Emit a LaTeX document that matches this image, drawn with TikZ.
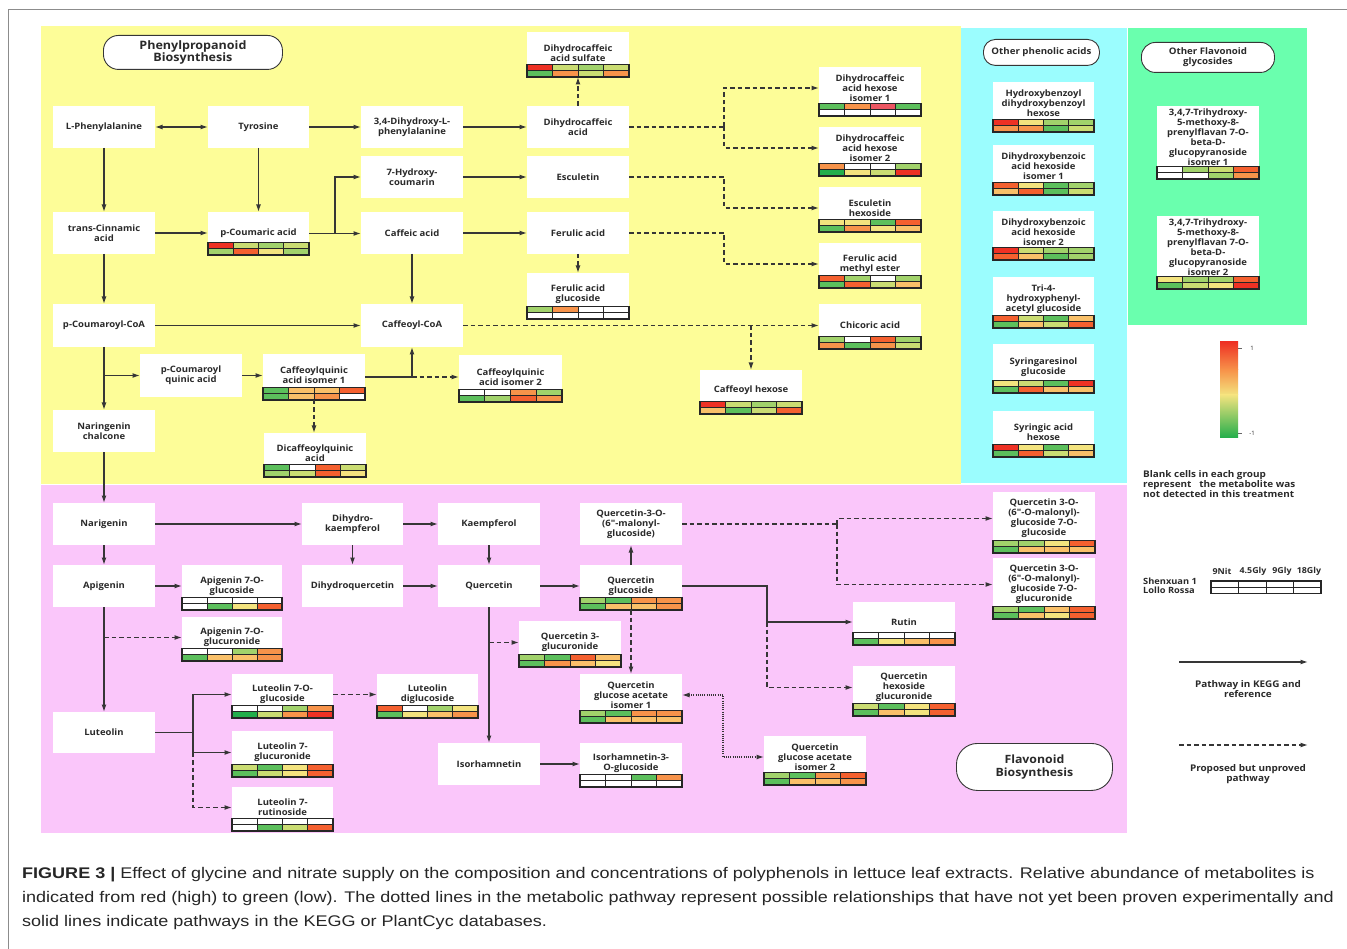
\documentclass[tikz,border=0pt]{standalone}
\usepackage{fontspec}
\setmainfont{Open Sans}
\newfontfamily\nodefont[FakeStretch=1.08]{Open Sans}
\newfontfamily\capfont[FakeStretch=1.17]{Liberation Sans}
\usetikzlibrary{arrows.meta,calc}

\definecolor{bgY}{HTML}{FDFD98}
\definecolor{bgP}{HTML}{FAC6FA}
\definecolor{bgC}{HTML}{9BFDFE}
\definecolor{bgG}{HTML}{6AFFAE}
\definecolor{lnc}{HTML}{363636}
\definecolor{txc}{HTML}{2A2A2A}
\definecolor{cR}{HTML}{EE3124}
\definecolor{cRo}{HTML}{F4602F}
\definecolor{cO}{HTML}{F7934A}
\definecolor{cLo}{HTML}{F9C069}
\definecolor{cY}{HTML}{F3E37E}
\definecolor{cYg}{HTML}{CADC72}
\definecolor{cLg}{HTML}{A1D26B}
\definecolor{cG}{HTML}{5CBF5C}
\definecolor{cDg}{HTML}{22AE4B}
\definecolor{cW}{HTML}{FFFFFF}
\definecolor{cPk}{HTML}{EC5662}

\tikzset{
  mbox/.style={rectangle, fill=white, draw=none, inner sep=0pt, outer sep=0pt},
  lbl/.style={align=center, inner sep=0pt, text=txc, font=\nodefont\bfseries\fontsize{8.8}{10}\selectfont},
  ttl/.style={rectangle, draw=lnc, fill=white, line width=0.9pt, align=center, inner sep=0pt, text=txc},
  sol/.style={draw=lnc, line width=1.3pt, -{Latex[length=7.5pt,width=5pt]}},
  dsh/.style={sol, dash pattern=on 4.5pt off 3pt},
  dtt/.style={draw=lnc, line width=1.2pt, dash pattern=on 1pt off 1.2pt, {Latex[length=7.5pt,width=5pt]}-{Latex[length=7.5pt,width=5pt]}},
  hmgrid/.style={draw=black!85, line width=0.8pt},
  hmframe/.style={draw=black!85, line width=1.2pt},
  legtxt/.style={inner sep=0pt, text=txc, font=\nodefont\bfseries\fontsize{9.2}{10}\selectfont},
  captxt/.style={inner sep=0pt, anchor=base west, text=black!85, font=\capfont\fontsize{15.4}{17}\selectfont}
}

% heatmap: x0, ytop, x1, colours (8)
\newcommand{\heat}[4]{%
  \foreach \hc [count=\hi from 0] in {#4} {%
    \pgfmathtruncatemacro\hcc{mod(\hi,4)}%
    \pgfmathtruncatemacro\hrr{\hi/4}%
    \fill[\hc] ({#1+(#3-#1)*\hcc/4},{#2+6.25*\hrr}) rectangle ({#1+(#3-#1)*(\hcc+1)/4},{#2+6.25*(\hrr+1)});
  }
  \draw[hmgrid] ({#1},{#2+6.25}) -- ({#3},{#2+6.25});
  \foreach \hk in {1,2,3} {\draw[hmgrid] ({#1+(#3-#1)*\hk/4},{#2}) -- ({#1+(#3-#1)*\hk/4},{#2+12.5});}
  \draw[hmframe] ({#1},{#2}) rectangle ({#3},{#2+12.5});
}
% plain metabolite box
\newcommand{\mbx}[6]{%
  \node[mbox, minimum width={#4pt-#2pt}, minimum height={#5pt-#3pt}, anchor=north west] (#1) at (#2,#3) {};
  \node[lbl] (#1-t) at (#1.center) {#6};
}
% metabolite box with heatmap
\newcommand{\mbh}[8][1.5]{%
  \node[mbox, minimum width={#5pt-#3pt}, minimum height={#6pt-#4pt}, anchor=north west] (#2) at (#3,#4) {};
  \node[lbl] (#2-t) at ([yshift=#1pt]#2.center) {#7};
  \heat{#3}{#6-12.5}{#5}{#8}
}

\begin{document}
\begin{tikzpicture}[x=1pt,y=-1pt]
\useasboundingbox (0,0) rectangle (1347,949);
\fill[white] (0,0) rectangle (1347,949);
\draw[black!45, line width=0.8pt] (8,949) -- (8,9) -- (1347,9);

% panels
\fill[bgY] (41,26) rectangle (961,484);
\fill[bgP] (41,485) rectangle (1127,833);
\fill[bgC] (961,28) rectangle (1127,483);
\fill[bgG] (1128,28) rectangle (1307,325);

% titles
\node[ttl, rounded corners=15pt, minimum width=179pt, minimum height=34pt, anchor=north west,
  font=\nodefont\bfseries\fontsize{11.6}{12.8}\selectfont] (ppb) at (103,35) {Phenylpropanoid\\Biosynthesis};
\node[ttl, rounded corners=21pt, minimum width=156pt, minimum height=47pt, anchor=north west,
  font=\nodefont\bfseries\fontsize{11.4}{13.2}\selectfont] (flb) at (956,743) {Flavonoid\\Biosynthesis};
\node[ttl, rounded corners=12pt, minimum width=116pt, minimum height=26pt, anchor=north west,
  font=\nodefont\bfseries\fontsize{9}{10}\selectfont] (opa) at (983,39) {Other phenolic acids};
\node[ttl, rounded corners=14pt, minimum width=133pt, minimum height=30pt, anchor=north west,
  font=\nodefont\bfseries\fontsize{9}{10}\selectfont] (ofg) at (1141,42) {Other Flavonoid\\glycosides};

% ---------- phenylpropanoid nodes
\mbx{lphe}{53}{106}{155}{148}{L-Phenylalanine}
\mbx{tyr}{208}{106}{309}{148}{Tyrosine}
\mbx{dopa}{361}{106}{463}{148}{3,4-Dihydroxy-L-\\phenylalanine}
\mbx{hcou}{361}{156}{463}{198}{7-Hydroxy-\\coumarin}
\mbx{tcin}{53}{212}{155}{254}{trans-Cinnamic\\acid}
\mbh[0.5]{pcou}{208}{212}{309}{255}{p-Coumaric acid}{cR,cYg,cLg,cYg,cLg,cRo,cY,cLg}
\mbx{caf}{361}{212}{463}{254}{Caffeic acid}
\mbh{dhcs}{527}{32}{629}{77}{Dihydrocaffeic\\acid sulfate}{cR,cYg,cLg,cYg,cG,cO,cYg,cO}
\mbx{dhca}{527}{106}{629}{148}{Dihydrocaffeic\\acid}
\mbx{esc}{527}{156}{629}{198}{Esculetin}
\mbx{fer}{527}{212}{629}{254}{Ferulic acid}
\mbh[3.5]{dhh1}{819}{67}{921}{116}{Dihydrocaffeic\\acid hexose\\isomer 1}{cG,cO,cPk,cG,cW,cW,cW,cW}
\mbh[3.5]{dhh2}{819}{127}{921}{176}{Dihydrocaffeic\\acid hexose\\isomer 2}{cO,cW,cW,cLg,cDg,cY,cYg,cR}
\mbh{esch}{819}{187}{921}{232}{Esculetin\\hexoside}{cY,cY,cG,cRo,cG,cO,cY,cLo}
\mbh{ferm}{819}{243}{921}{288}{Ferulic acid\\methyl ester}{cRo,cLg,cW,cLg,cG,cRo,cYg,cLo}
\mbh{ferg}{527}{273}{629}{319}{Ferulic acid\\glucoside}{cLg,cO,cW,cW,cW,cW,cW,cW}
\mbh{chic}{819}{304}{921}{349}{Chicoric acid}{cLg,cW,cRo,cLg,cO,cG,cO,cYg}
\mbx{pcoa}{53}{304}{155}{347}{p-Coumaroyl-CoA}
\mbx{cafcoa}{361}{304}{463}{347}{Caffeoyl-CoA}
\mbx{pcq}{140}{354}{242}{397}{p-Coumaroyl\\quinic acid}
\mbh{cq1}{263}{354}{365}{400}{Caffeoylquinic\\acid isomer 1}{cG,cLo,cLo,cRo,cG,cLo,cO,cW}
\mbx{nch}{53}{410}{155}{452}{Naringenin\\chalcone}
\mbh{dcq}{264}{433}{366}{477}{Dicaffeoylquinic\\acid}{cG,cW,cRo,cYg,cLg,cYg,cRo,cY}
\mbh{cq2}{459}{355}{562}{402}{Caffeoylquinic\\acid isomer 2}{cW,cW,cO,cLg,cG,cLg,cRo,cO}
\mbh{cafh}{700}{370}{802}{414}{Caffeoyl hexose}{cR,cYg,cLg,cYg,cLo,cG,cYg,cRo}

% ---------- other phenolic acids
\mbh[3.5]{oc1}{993}{82}{1094}{132}{Hydroxybenzoyl\\dihydroxybenzoyl\\hexose}{cR,cY,cLg,cLg,cO,cO,cG,cYg}
\mbh[3.5]{oc2}{993}{145}{1094}{195}{Dihydroxybenzoic\\acid hexoside\\isomer 1}{cRo,cY,cG,cLg,cLo,cRo,cG,cYg}
\mbh[3.5]{oc3}{993}{211}{1094}{260}{Dihydroxybenzoic\\acid hexoside\\isomer 2}{cR,cYg,cLg,cLg,cRo,cLo,cG,cLg}
\mbh[3.5]{oc4}{993}{277}{1094}{328}{Tri-4-\\hydroxyphenyl-\\acetyl glucoside}{cRo,cYg,cG,cLo,cG,cLo,cYg,cRo}
\mbh{oc5}{993}{344}{1094}{393}{Syringaresinol\\glucoside}{cY,cYg,cG,cR,cG,cRo,cLo,cLo}
\mbh{oc6}{993}{411}{1094}{457}{Syringic acid\\hexose}{cR,cY,cG,cY,cG,cRo,cYg,cLo}
% ---------- other flavonoid glycosides
\mbh[5]{og1}{1157}{106}{1259}{179}{3,4,7-Trihydroxy-\\5-methoxy-8-\\prenylflavan 7-O-\\beta-D-\\glucopyranoside\\isomer 1}{cW,cLg,cYg,cRo,cW,cW,cLg,cO}
\mbh[5]{og2}{1157}{216}{1259}{289}{3,4,7-Trihydroxy-\\5-methoxy-8-\\prenylflavan 7-O-\\beta-D-\\glucopyranoside\\isomer 2}{cY,cLg,cLg,cRo,cG,cYg,cY,cR}

% ---------- flavonoid nodes
\mbx{nar}{53}{503}{155}{545}{Narigenin}
\mbx{dhk}{302}{503}{403}{545}{Dihydro-\\kaempferol}
\mbx{kae}{438}{503}{540}{545}{Kaempferol}
\mbx{api}{53}{565}{155}{607}{Apigenin}
\mbh{a7g}{182}{565}{282}{610}{Apigenin 7-O-\\glucoside}{cW,cW,cW,cW,cW,cG,cY,cRo}
\mbx{dhq}{302}{565}{403}{607}{Dihydroquercetin}
\mbx{que}{438}{565}{540}{607}{Quercetin}
\mbh{a7gu}{182}{617}{282}{661}{Apigenin 7-O-\\glucuronide}{cW,cW,cLg,cO,cG,cLo,cLo,cO}
\mbh{l7g}{232}{674}{333}{718}{Luteolin 7-O-\\glucoside}{cW,cW,cLg,cO,cDg,cYg,cO,cR}
\mbh{ldg}{377}{674}{478}{718}{Luteolin\\diglucoside}{cRo,cW,cLg,cY,cG,cY,cLo,cO}
\mbx{lut}{53}{712}{155}{753}{Luteolin}
\mbh{l7gu}{232}{731}{333}{777}{Luteolin 7-\\glucuronide}{cYg,cG,cY,cRo,cG,cYg,cY,cRo}
\mbh{l7r}{232}{787}{333}{831}{Luteolin 7-\\rutinoside}{cW,cW,cW,cW,cW,cG,cYg,cRo}
\mbx{iso}{438}{743}{540}{785}{Isorhamnetin}
\mbx{qmal}{580}{503}{682}{545}{Quercetin-3-O-\\(6"-malonyl-\\glucoside)}
\mbh{qg}{580}{565}{682}{610}{Quercetin\\glucoside}{cLg,cG,cO,cO,cG,cLo,cLo,cO}
\mbh{q3g}{519}{621}{621}{667}{Quercetin 3-\\glucuronide}{cLg,cG,cRo,cLo,cG,cO,cLo,cY}
\mbh[3.5]{qga1}{580}{674}{682}{723}{Quercetin\\glucose acetate\\isomer 1}{cLg,cG,cO,cO,cG,cLo,cLo,cLo}
\mbh{iso3g}{580}{743}{682}{787}{Isorhamnetin-3-\\O-glucoside}{cW,cW,cG,cO,cW,cW,cW,cW}
\mbh[3.5]{qga2}{764}{736}{866}{785}{Quercetin\\glucose acetate\\isomer 2}{cLg,cG,cO,cRo,cG,cLo,cLo,cO}
\mbh{rut}{853}{602}{955}{645}{Rutin}{cW,cW,cW,cW,cG,cY,cLo,cO}
\mbh[3.5]{qhg}{853}{666}{955}{716}{Quercetin\\hexoside\\glucuronide}{cYg,cG,cY,cRo,cG,cLo,cY,cRo}
\mbh[4]{qm7g}{993}{492}{1095}{553}{Quercetin 3-O-\\(6"-O-malonyl)-\\glucoside 7-O-\\glucoside}{cLg,cLg,cY,cRo,cG,cLo,cLo,cLo}
\mbh[4]{qm7gu}{993}{558}{1095}{619}{Quercetin 3-O-\\(6"-O-malonyl)-\\glucoside 7-O-\\glucuronide}{cLg,cG,cLo,cRo,cG,cLo,cY,cRo}

% ---------- connectors: phenylpropanoid
\draw[sol, {Latex[length=7.5pt,width=5pt]}-{Latex[length=7.5pt,width=5pt]}] (lphe.east) -- (tyr.west);
\draw[sol] (tyr.east) -- (dopa.west);
\draw[sol] (dopa.east) -- (dhca.west);
\draw[sol] (hcou.east) -- (esc.west);
\draw[sol] (caf.east) -- (fer.west);
\draw[sol] (lphe.south) -- (tcin.north);
\draw[sol] (tyr.south) -- (pcou.north);
\draw[sol] (tcin.east) -- (tcin.east -| pcou.west);
\draw[sol] (pcou.east) -- (pcou.east -| caf.west);
\coordinate (bp1) at ($(pcou.east)+(26,0)$);
\draw[sol] (bp1) |- (hcou.west);
\draw[sol] (tcin.south) -- (pcoa.north);
\draw[sol] (caf.south) -- (cafcoa.north);
\draw[sol] (pcoa.east) -- (cafcoa.west);
\draw[sol] (pcoa.south) -- (nch.north);
\coordinate (bp2) at (pcoa.south |- pcq.west);
\draw[sol] (bp2) -- (pcq.west);
\draw[sol] (pcq.east) -- (pcq.east -| cq1.west);
\draw[sol] (cq1.east) -| (cafcoa.south);
\coordinate (bp3) at (cq1.east -| cafcoa.south);
\draw[dsh] (bp3) -- (bp3 -| cq2.west);
\draw[dsh] (cq1.south) -- (cq1.south |- dcq.north);
\draw[dsh] (cafcoa.east) -- (cafcoa.east -| chic.west);
\coordinate (bp4) at (cafcoa.east -| cafh.north);
\draw[dsh] (bp4) -- (cafh.north);
\draw[dsh] (dhca.north) -- (dhcs.south);
\coordinate (bp5) at ($(dhca.east)+(95,0)$);
\draw[dsh,-] (dhca.east) -- (bp5);
\draw[dsh] (bp5) |- (dhh1.west |- dhh1-t);
\draw[dsh] (bp5) |- (dhh2.west |- dhh2-t);
\coordinate (bp6) at ($(esc.east)+(95,0)$);
\draw[dsh] (esc.east) -- (bp6) |- (esch.west |- esch-t);
\coordinate (bp7) at ($(fer.east)+(95,0)$);
\draw[dsh] (fer.east) -- (bp7) |- (ferm.west |- ferm-t);
\draw[dsh] (fer.south) -- (ferg.north);
\draw[sol] (nch.south) -- (nar.north);

% ---------- connectors: flavonoid
\draw[sol] (nar.east) -- (dhk.west);
\draw[sol] (dhk.east) -- (kae.west);
\draw[sol] (nar.south) -- (api.north);
\draw[sol] (dhk.south) -- (dhq.north);
\draw[sol] (kae.south) -- (que.north);
\draw[sol] (api.east) -- (api.east -| a7g.west);
\draw[sol] (dhq.east) -- (que.west);
\draw[sol] (que.east) -- (que.east -| qg.west);
\draw[sol] (qg.north) -- (qmal.south);
\draw[sol] (api.south) -- (lut.north);
\coordinate (bq1) at (api.south |- a7gu-t);
\draw[dsh] (bq1) -- (bq1 -| a7gu.west);
\coordinate (bq2) at ($(lut.east)+(38,0)$);
\draw[draw=lnc, line width=1.3pt] (lut.east) -- (bq2);
\draw[sol] (bq2) |- (l7g.west |- l7g-t);
\draw[sol] (bq2) |- (l7gu.west |- l7gu-t);
\coordinate (bq3) at (bq2 |- l7gu-t);
\draw[dsh] (bq3) |- (l7r.west |- l7r-t);
\draw[dsh] (l7g.east |- l7g-t) -- (ldg.west |- l7g-t);
\draw[sol] (que.south) -- (iso.north);
\coordinate (bq4) at (que.south |- q3g-t);
\draw[dsh] (bq4) -- (bq4 -| q3g.west);
\draw[sol] (iso.east) -- (iso.east -| iso3g.west);
\draw[dsh] (qg.south) -- (qga1.north);
\coordinate (bq5) at ($(qg.east |- qg-t)+(85,0)$);
\draw[sol] (qg.east |- qg-t) -- (bq5) |- (rut.west |- rut-t);
\coordinate (bq6) at (bq5 |- rut-t);
\draw[dsh] (bq6) |- (qhg.west |- qhg-t);
\coordinate (bq7) at ($(qmal.east)+(155,0)$);
\draw[dsh,-] (qmal.east) -- (bq7);
\draw[dsh] (bq7) |- (qm7g.west |- qm7g-t);
\draw[dsh] (bq7) |- (qm7gu.west |- qm7gu-t);
\coordinate (bq8) at ($(qga1.east |- qga1-t)+(41,0)$);
\draw[dtt] (qga1.east |- qga1-t) -- (bq8) |- (qga2.west |- qga2-t);

% ---------- legend
\shade[top color=cR, bottom color=cO] (1220,342) rectangle (1238,370);
\shade[top color=cO, bottom color=cY] (1220,370) rectangle (1238,395);
\shade[top color=cY, bottom color=cDg] (1220,395) rectangle (1238,438);
\draw[black!60, line width=0.5pt] (1238,348) -- (1242,348) (1238,433) -- (1242,433);
\node[inner sep=0pt, text=txc, font=\fontsize{6}{7}\selectfont] (cb1) at (1252,348) {1};
\node[inner sep=0pt, text=txc, font=\fontsize{6}{7}\selectfont] (cb2) at (1252,433) {-1};
\node[legtxt, align=left, anchor=north west] (blank) at (1143,470) {Blank cells in each group\\represent\ \ \ the metabolite was\\not detected in this treatment};
\node[legtxt, font=\nodefont\bfseries\fontsize{8.2}{9}\selectfont] (t1) at (1222,571) {9Nit};
\node[legtxt, font=\nodefont\bfseries\fontsize{8.2}{9}\selectfont] (t2) at (1253,571) {4.5Gly};
\node[legtxt, font=\nodefont\bfseries\fontsize{8.2}{9}\selectfont] (t3) at (1282,571) {9Gly};
\node[legtxt, font=\nodefont\bfseries\fontsize{8.2}{9}\selectfont] (t4) at (1309,571) {18Gly};
\node[legtxt, align=left, anchor=west, font=\nodefont\bfseries\fontsize{8.6}{9.5}\selectfont] (cult) at (1143,586) {Shenxuan 1\\Lollo Rossa};
\heat{1211}{581}{1321}{cW,cW,cW,cW,cW,cW,cW,cW}
\coordinate (la1) at (1179,662);
\coordinate (la2) at (1308,662);
\draw[sol] (la1) -- (la2);
\node[legtxt, align=center] (lt1) at (1248,689) {Pathway in KEGG and\\reference};
\coordinate (lb1) at (1179,745);
\coordinate (lb2) at (1308,745);
\draw[dsh] (lb1) -- (lb2);
\node[legtxt, align=center] (lt2) at (1248,774) {Proposed but unproved\\pathway};

% ---------- caption
\node[captxt] (cap1) at (22,878) {\textbf{FIGURE 3 |} Effect of glycine and nitrate supply on the composition and concentrations of polyphenols in lettuce leaf extracts. Relative abundance of metabolites is};
\node[captxt] (cap2) at (22,902) {indicated from red (high) to green (low). The dotted lines in the metabolic pathway represent possible relationships that have not yet been proven experimentally and};
\node[captxt] (cap3) at (22,926) {solid lines indicate pathways in the KEGG or PlantCyc databases.};
\end{tikzpicture}
\end{document}
